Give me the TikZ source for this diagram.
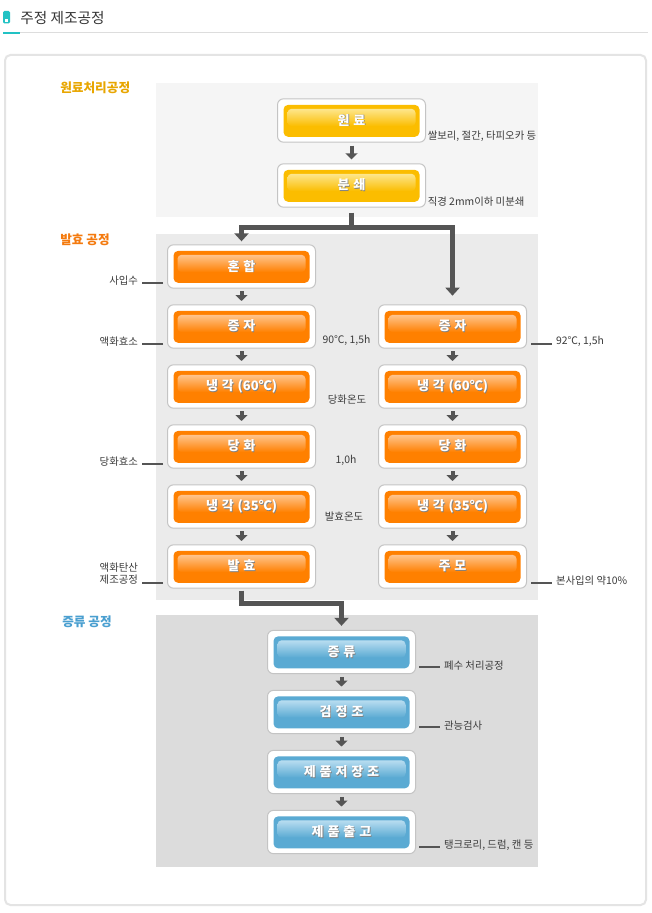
\documentclass[tikz,border=0pt]{standalone}
\usepackage{fontspec}
\setmainfont{Noto Sans CJK KR}
\usetikzlibrary{arrows.meta}

\definecolor{arrgray}{HTML}{555555}
\definecolor{framegray}{HTML}{C4C4C4}
\definecolor{notegray}{HTML}{3C3C3C}
\definecolor{titlegray}{HTML}{333333}
\definecolor{linegray}{HTML}{DDDDDD}
\definecolor{panelgray}{HTML}{E4E4E4}
\definecolor{tealc}{HTML}{22C2C4}
\definecolor{secone}{HTML}{F5F5F5}
\definecolor{sectwo}{HTML}{EBEBEB}
\definecolor{secthree}{HTML}{DCDCDC}
\definecolor{yelbase}{HTML}{FBBD00}
\definecolor{yeltop}{HTML}{FDE68C}
\definecolor{orgbase}{HTML}{FF8000}
\definecolor{orgtop}{HTML}{FFC48C}
\definecolor{blubase}{HTML}{5AAAD3}
\definecolor{blutop}{HTML}{B8DDF0}
\definecolor{goldc}{HTML}{E8A600}
\definecolor{orgc}{HTML}{F47A0E}
\definecolor{bluc}{HTML}{4A9FD0}

% coloured button inside the white frame
\newcommand\btnfill[2]{%
  \fill[#1, rounded corners=3.5pt] ([shift={(4.5pt,4pt)}]path picture bounding box.south west) rectangle ([shift={(-4.5pt,-4.5pt)}]path picture bounding box.north east);
  \shade[top color=#2, bottom color=#1, rounded corners=3pt] ([shift={(7.5pt,-20.5pt)}]path picture bounding box.north west) rectangle ([shift={(-7.5pt,-7.5pt)}]path picture bounding box.north east);}
\newcommand\shd[1]{\raisebox{-0.75pt}{\spaceskip=0.3em\relax\rlap{\kern0.6pt\raisebox{-0.6pt}{\color{black!50}#1}}#1}}

\tikzset{
  box/.style={draw=framegray, line width=0.75pt, fill=white, rounded corners=4.5pt,
    minimum width=111pt, minimum height=32.5pt, inner sep=0pt, text=white,
    font=\bfseries\fontsize{9.75}{11}\selectfont},
  yelbox/.style={box, path picture={\btnfill{yelbase}{yeltop}}},
  orgbox/.style={box, path picture={\btnfill{orgbase}{orgtop}}},
  blubox/.style={box, path picture={\btnfill{blubase}{blutop}}},
  flow/.style={draw=arrgray, line width=3pt, -{Triangle[width=9pt,length=4.5pt]},
    shorten <=2pt, shorten >=2.5pt},
  bigflow/.style={draw=arrgray, line width=3.75pt, -{Triangle[width=10.5pt,length=6pt]}},
  tick/.style={draw=arrgray, line width=1.5pt},
  note/.style={text=notegray, font=\fontsize{7.8}{9}\selectfont, inner sep=2.25pt},
  sect/.style={font=\bfseries\fontsize{9.5}{11}\selectfont, anchor=west, inner sep=0pt}
}

\begin{document}
\begin{tikzpicture}[x=0.75pt, y=-0.75pt]
\useasboundingbox (0,0) rectangle (651,913);
\fill[white] (0,0) rectangle (651,913);

% heading
\fill[tealc, rounded corners=1pt] (3,11) rectangle (10,23.5);
\fill[white] (5.3,19) rectangle (7.8,21.6);
\node[anchor=west, inner sep=0pt, text=titlegray, font=\fontsize{11}{12}\selectfont] (title) at (20,18.5) {주정 제조공정};
\draw[linegray, line width=0.75pt] (3,33) -- (648,33);
\draw[tealc, line width=1.5pt] (3,33) -- (20,33);

% panel and stage backgrounds
\draw[panelgray, line width=1.5pt, rounded corners=4pt] (5,55) rectangle (646,905);
\fill[secone] (156,83) rectangle (538,217);
\fill[sectwo] (156,234) rectangle (538,600);
\fill[secthree] (156,615) rectangle (538,867);

\node[sect, text=goldc] (s1) at (60,88) {원료처리공정};
\node[sect, text=orgc] (s2) at (60,240) {발효 공정};
\node[sect, text=bluc] (s3) at (62,622) {증류 공정};

% raw material
\node[yelbox] (T1) at (351.5,120.5) {\shd{원 료}};
\node[yelbox] (T2) at (351.5,185.5) {\shd{분 쇄}};
\draw[flow, shorten <=2.25pt, shorten >=3pt] (T1) -- (T2);
\node[note, anchor=west] (n1) at (424.5,136.5) {쌀보리, 절간, 타피오카 등};
\node[note, anchor=west] (n2) at (424.5,201.5) {직경 2mm이하 미분쇄};

% fermentation
\foreach \i/\txt in {1/혼 합, 2/증 자, 3/냉 각 (60℃), 4/당 화, 5/냉 각 (35℃), 6/발 효}
  \node[orgbox] (L\i) at (241.5,206.5+60*\i) {\shd{\txt}};
\foreach \i/\txt in {2/증 자, 3/냉 각 (60℃), 4/당 화, 5/냉 각 (35℃), 6/주 모}
  \node[orgbox] (R\i) at (452.5,206.5+60*\i) {\shd{\txt}};
\foreach \i in {1,...,5}{
  \pgfmathtruncatemacro\j{\i+1}
  \draw[flow] (L\i) -- (L\j);
}
\foreach \i in {2,...,5}{
  \pgfmathtruncatemacro\j{\i+1}
  \draw[flow] (R\i) -- (R\j);
}

\coordinate (split) at (351.5,227);
\draw[bigflow, shorten <=3.75pt, shorten >=2.25pt] (T2.south) -- (split) -| (L1.north);
\draw[bigflow, shorten >=6.5pt] (split) -| (R2.north);

\draw[tick] ([shift={(-3pt,4.5pt)}]L1.south west) -- ++(-21,0) node[note, anchor=east, yshift=1.5pt] (w1) {사입수};
\draw[tick] ([shift={(-3pt,3.75pt)}]L2.south west) -- ++(-21,0) node[note, anchor=east, yshift=1.5pt] (w2) {액화효소};
\draw[tick] ([shift={(-3pt,3.75pt)}]L4.south west) -- ++(-21,0) node[note, anchor=east, yshift=1.5pt] (w4) {당화효소};
\draw[tick] ([shift={(-3pt,4.5pt)}]L6.south west) -- ++(-21,0) node[note, anchor=south east, align=left, yshift=-4.5pt] (w6) {액화탄산\\제조공정};

\node[note] (m2) at (346.5,340) {90℃, 1,5h};
\node[note] (m3) at (347,400) {당화온도};
\node[note] (m4) at (346,460.5) {1,0h};
\node[note] (m5) at (344,516.5) {발효온도};

\draw[tick] ([shift={(3pt,3.75pt)}]R2.south east) -- ++(21,0) node[note, anchor=west, yshift=1.5pt] (e2) {92℃, 1,5h};
\draw[tick] ([shift={(3pt,4.5pt)}]R6.south east) -- ++(21,0) node[note, anchor=west, yshift=1.5pt] (e6) {본사입의 약10\%};

% distillation
\foreach \i/\txt in {1/증 류, 2/검 정 조, 3/제 품 저 장 조, 4/제 품 출 고}
  \node[blubox] (B\i) at (341.5,592+60*\i) {\shd{\txt}};
\foreach \i in {1,...,3}{
  \pgfmathtruncatemacro\j{\i+1}
  \draw[flow] (B\i) -- (B\j);
}
\draw[bigflow, shorten <=1.5pt, shorten >=3pt] (L6.south) -- ++(0,14.5) -| (B1.north);

\draw[tick] ([shift={(2.25pt,5.25pt)}]B1.south east) -- ++(21,0) node[note, anchor=west, yshift=1.5pt] (f1) {폐수 처리공정};
\draw[tick] ([shift={(2.25pt,5.25pt)}]B2.south east) -- ++(21,0) node[note, anchor=west, yshift=1.5pt] (f2) {관능검사};
\draw[tick] ([shift={(2.25pt,5.25pt)}]B4.south east) -- ++(21,0) node[note, anchor=west, yshift=1.5pt] (f4) {탱크로리, 드럼, 캔 등};
\end{tikzpicture}
\end{document}
